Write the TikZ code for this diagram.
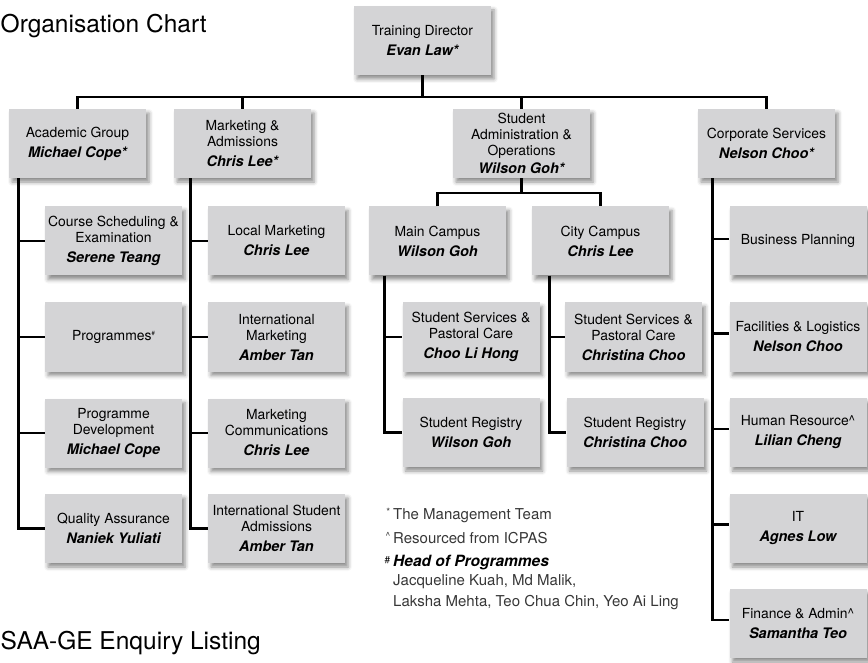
\documentclass[tikz,border=0pt]{standalone}
\usepackage{fontspec}
\setmainfont{TeX Gyre Heros}
\usetikzlibrary{calc,shadows.blur}
\definecolor{boxgray}{RGB}{212,212,214}
\definecolor{notegray}{RGB}{55,55,55}
\newcommand{\pname}[1]{{\fontsize{14.5}{16}\selectfont\bfseries\itshape #1}}
\newcommand{\fnsym}[1]{\llap{\raisebox{3.5pt}{\fontsize{10}{10}\selectfont #1}\hspace{3pt}}}
\begin{document}
\begin{tikzpicture}[x=1pt,y=-1pt,
  orgbox/.style={fill=boxgray, minimum width=137pt, minimum height=69pt, inner sep=1pt,
    align=center, font=\fontsize{13.9}{16}\selectfont,
    blur shadow={shadow xshift=3pt, shadow yshift=-4pt, shadow blur radius=4pt, shadow opacity=45}},
  conn/.style={line width=2.7pt, black, line join=miter},
  bigtitle/.style={anchor=base west, inner sep=0pt, font=\fontsize{24.5}{28}\selectfont},
  note/.style={anchor=base west, inner sep=0pt, text=notegray, font=\fontsize{15}{18}\selectfont}]
\useasboundingbox (0,0) rectangle (868,663);

\node[bigtitle] (title1) at (0.5,33) {Organisation Chart};
\node[bigtitle] (title2) at (0.5,649) {SAA-GE Enquiry Listing};

% level 0 and 1
\node[orgbox] (td)   at (422.5,40.5) {Training Director\\[4pt]\pname{Evan Law*}};
\node[orgbox] (acad) at (77.5,143.5) {Academic Group\\[4pt]\pname{Michael Cope*}};
\node[orgbox] (mkt)  at (242.5,143.5) {Marketing \&\\Admissions\\[4pt]\pname{Chris Lee*}};
\node[orgbox] (sao)  at (521.5,143.5) {Student\\Administration \&\\Operations\\[2pt]\pname{Wilson Goh*}};
\node[orgbox] (corp) at (766.5,143.5) {Corporate Services\\[4pt]\pname{Nelson Choo*}};

% academic
\node[orgbox] (cs)   at (113.5,241) {Course Scheduling \&\\Examination\\[4pt]\pname{Serene Teang}};
\node[orgbox] (prog) at (113.5,337) {Programmes\raisebox{5pt}{\fontsize{6}{6}\selectfont\#}};
\node[orgbox] (pd)   at (113.5,433) {Programme\\Development\\[4pt]\pname{Michael Cope}};
\node[orgbox] (qa)   at (113.5,528.5) {Quality Assurance\\[4pt]\pname{Naniek Yuliati}};

% marketing
\node[orgbox] (lm)  at (276.5,241) {Local Marketing\\[4pt]\pname{Chris Lee}};
\node[orgbox] (im)  at (276.5,337) {International\\Marketing\\[4pt]\pname{Amber Tan}};
\node[orgbox] (mc)  at (276.5,433) {Marketing\\Communications\\[4pt]\pname{Chris Lee}};
\node[orgbox] (isa) at (276.5,528.5) {International Student\\Admissions\\[4pt]\pname{Amber Tan}};

% campuses
\node[orgbox] (mcamp) at (437.5,241) {Main Campus\\[4pt]\pname{Wilson Goh}};
\node[orgbox] (ccamp) at (600.5,241) {City Campus\\[4pt]\pname{Chris Lee}};
\node[orgbox] (ssm) at (471,337) {Student Services \&\\Pastoral Care\\[4pt]\pname{Choo Li Hong}};
\node[orgbox] (srm) at (471,432.5) {Student Registry\\[4pt]\pname{Wilson Goh}};
\node[orgbox] (ssc) at (633.5,337) {Student Services \&\\Pastoral Care\\[4pt]\pname{Christina Choo}};
\node[orgbox] (src) at (635,432.5) {Student Registry\\[4pt]\pname{Christina Choo}};

% corporate
\node[orgbox] (bp) at (798,241) {Business Planning};
\node[orgbox] (fl) at (798,337) {Facilities \& Logistics\\[4pt]\pname{Nelson Choo}};
\node[orgbox] (hr) at (798,432.5) {Human Resource\textasciicircum\\[4pt]\pname{Lilian Cheng}};
\node[orgbox] (it) at (798,528.5) {IT\\[4pt]\pname{Agnes Low}};
\node[orgbox] (fa) at (798,623.5) {Finance \& Admin\textasciicircum\\[4pt]\pname{Samantha Teo}};

% connectors: top level
\coordinate (bus) at (td.south |- 0,97);
\draw[conn] (td.south) -- (bus);
\draw[conn] (acad.north) |- (bus) -| (corp.north);
\draw[conn] (mkt.north) -- (mkt.north |- bus);
\draw[conn] (sao.north) -- (sao.north |- bus);

% student admin
\coordinate (sbus) at (sao.south |- 0,193);
\draw[conn] (sao.south) -- (sbus);
\draw[conn] (mcamp.north) |- (sbus) -| (ccamp.north);

% academic
\coordinate (av) at ($(acad.south west)+(9.5,0)$);
\draw[conn] (av) |- (qa.west);
\draw[conn] (av) |- (cs.west);
\draw[conn] (av) |- (prog.west);
\draw[conn] (av) |- (pd.west);

% marketing
\coordinate (mv) at ($(mkt.south west)+(16.5,0)$);
\draw[conn] (mv) |- (isa.west);
\draw[conn] (mv) |- (lm.west);
\draw[conn] (mv) |- (im.west);
\draw[conn] (mv) |- (mc.west);

% campuses
\coordinate (mcv) at ($(mcamp.south west)+(16,0)$);
\draw[conn] (mcv) |- (srm.west);
\draw[conn] (mcv) |- (ssm.west);
\coordinate (ccv) at ($(ccamp.south west)+(18,0)$);
\draw[conn] (ccv) |- (src.west);
\draw[conn] (ccv) |- (ssc.west);

% corporate
\coordinate (kv) at ($(corp.south west)+(15,0)$);
\draw[conn] (kv) |- ($(fa.west)+(0,-3.5)$);
\draw[conn] (kv) |- ($(bp.west)+(0,-2)$);
\draw[conn] (kv) |- ($(fl.west)+(0,-3.5)$);
\draw[conn] (kv) |- ($(hr.west)+(0,-3.5)$);
\draw[conn] (kv) |- ($(it.west)+(0,-4)$);

% notes
\node[note] (n1) at (393,519) {\fnsym{*}The Management Team};
\node[note] (n2) at (393,543) {\fnsym{\textasciicircum}Resourced from ICPAS};
\node[note, text=black, font=\fontsize{15.5}{18}\selectfont\bfseries\itshape] (n3) at (393,566.5) {\fnsym{\normalfont\#}Head of Programmes};
\node[note] (n4) at (393,585.5) {Jacqueline Kuah, Md Malik,};
\node[note] (n5) at (393,606.5) {Laksha Mehta, Teo Chua Chin, Yeo Ai Ling};
\end{tikzpicture}
\end{document}
